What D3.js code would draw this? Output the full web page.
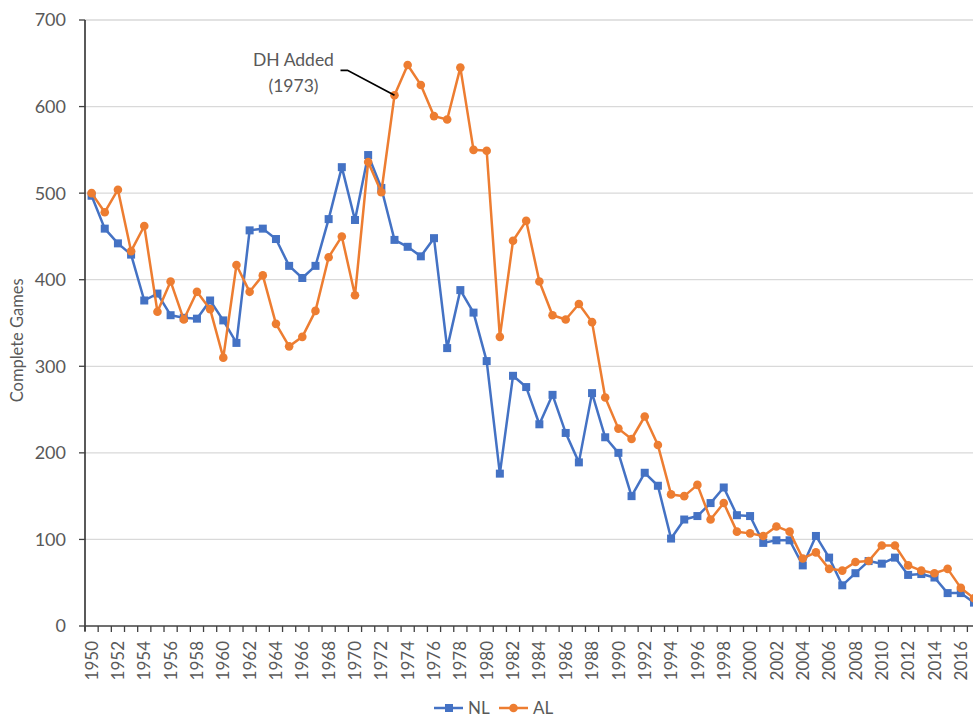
<!DOCTYPE html>
<html>
<head>
<meta charset="utf-8">
<script src="https://cdn.jsdelivr.net/npm/d3@7"></script>
<style>
  body { margin: 0; background: #fff; }
  text { font-family: Lato, "Open Sans", sans-serif; fill: #595959; }
</style>
</head>
<body>
<script>
// seasons 1950..2017
var years = d3.range(1950, 2018);

var nlGames = [497, 459, 442, 429, 376, 384, 359, 356, 355, 376,
  353, 327, 457, 459, 447, 416, 402, 416, 470, 530,
  469, 544, 506, 446, 438, 427, 448, 321, 388, 362,
  306, 176, 289, 276, 233, 267, 223, 189, 269, 218,
  200, 150, 177, 162, 101, 123, 127, 142, 160, 128,
  127, 96, 99, 99, 70, 104, 79, 47, 61, 75,
  72, 79, 59, 60, 56, 38, 38, 27];

var alGames = [500, 478, 504, 433, 462, 363, 398, 354, 386, 366,
  310, 417, 386, 405, 349, 323, 334, 364, 426, 450,
  382, 536, 501, 613, 648, 625, 589, 585, 645, 550,
  549, 334, 445, 468, 398, 359, 354, 372, 351, 264,
  228, 216, 242, 209, 152, 150, 163, 123, 142, 109,
  107, 104, 115, 109, 78, 85, 66, 64, 74, 75,
  93, 93, 70, 64, 61, 66, 44, 32];

var yTicks = [0, 100, 200, 300, 400, 500, 600, 700];
var seriesNames = ["NL", "AL"];
var seriesColors = ["#4472C4", "#ED7D31"];

var w = 973, h = 717;
var plotLeft = 85, plotTop = 20, plotBottom = 626;

var svg = d3.select("body").append("svg").attr("width", w).attr("height", h);

var x = d3.scaleBand()
  .domain(years)
  .range([plotLeft, plotLeft + years.length * 13.17])
  .paddingInner(0)
  .paddingOuter(0);

var y = d3.scaleLinear().domain([0, 700]).range([plotBottom, plotTop]);

function cx(d) {
  return x(d) + x.bandwidth() / 2;
}

// gridlines
svg.selectAll("line.grid")
  .data(yTicks.slice(1))
  .enter()
  .append("line")
  .attr("class", "grid")
  .attr("x1", plotLeft)
  .attr("x2", w)
  .attr("y1", function (d) { return y(d); })
  .attr("y2", function (d) { return y(d); })
  .attr("stroke", "#d9d9d9")
  .attr("stroke-width", 1.3);

// y axis
svg.append("line")
  .attr("x1", plotLeft).attr("x2", plotLeft)
  .attr("y1", y(700)).attr("y2", plotBottom + 5)
  .attr("stroke", "#000").attr("stroke-width", 1.3);

svg.selectAll("line.ytick")
  .data(yTicks)
  .enter()
  .append("line")
  .attr("class", "ytick")
  .attr("x1", plotLeft - 6)
  .attr("x2", plotLeft)
  .attr("y1", function (d) { return y(d); })
  .attr("y2", function (d) { return y(d); })
  .attr("stroke", "#404040")
  .attr("stroke-width", 1.3);

svg.selectAll("text.ylab")
  .data(yTicks)
  .enter()
  .append("text")
  .attr("class", "ylab")
  .attr("x", 66)
  .attr("y", function (d) { return y(d); })
  .attr("dy", "0.36em")
  .attr("text-anchor", "end")
  .style("font-size", "18px")
  .text(function (d) { return d; });

svg.append("text")
  .attr("transform", "translate(23," + y(330) + ") rotate(-90)")
  .attr("text-anchor", "middle")
  .style("font-size", "16.5px")
  .text("Complete Games");

// x axis
svg.append("line")
  .attr("x1", plotLeft).attr("x2", w)
  .attr("y1", plotBottom).attr("y2", plotBottom)
  .attr("stroke", "#404040").attr("stroke-width", 1.3);

svg.selectAll("line.xtick")
  .data(years)
  .enter()
  .append("line")
  .attr("class", "xtick")
  .attr("x1", function (d) { return x(d); })
  .attr("x2", function (d) { return x(d); })
  .attr("y1", plotBottom)
  .attr("y2", plotBottom + 6)
  .attr("stroke", "#404040")
  .attr("stroke-width", 1.3);

svg.selectAll("text.xlab")
  .data(years.filter(function (d) { return d % 2 === 0; }))
  .enter()
  .append("text")
  .attr("class", "xlab")
  .attr("transform", function (d) {
    return "translate(" + cx(d) + "," + (plotBottom + 15) + ") rotate(-90)";
  })
  .attr("dy", "0.36em")
  .attr("text-anchor", "end")
  .style("font-size", "17px")
  .text(function (d) { return d; });

// lines + markers
var line = d3.line()
  .x(function (d) { return cx(d.year); })
  .y(function (d) { return y(d.value); });

function toPoints(values) {
  return years.map(function (yr, i) { return { year: yr, value: values[i] }; });
}

var nlPts = toPoints(nlGames);
var alPts = toPoints(alGames);

svg.append("path")
  .datum(nlPts)
  .attr("d", line)
  .attr("fill", "none")
  .attr("stroke", seriesColors[0])
  .attr("stroke-width", 2.5)
  .attr("stroke-linejoin", "round");

svg.selectAll("rect.nl")
  .data(nlPts)
  .enter()
  .append("rect")
  .attr("class", "nl")
  .attr("x", function (d) { return cx(d.year) - 4; })
  .attr("y", function (d) { return y(d.value) - 4; })
  .attr("width", 8)
  .attr("height", 8)
  .attr("fill", seriesColors[0]);

svg.append("path")
  .datum(alPts)
  .attr("d", line)
  .attr("fill", "none")
  .attr("stroke", seriesColors[1])
  .attr("stroke-width", 2.5)
  .attr("stroke-linejoin", "round");

svg.selectAll("circle.al")
  .data(alPts)
  .enter()
  .append("circle")
  .attr("class", "al")
  .attr("cx", function (d) { return cx(d.year); })
  .attr("cy", function (d) { return y(d.value); })
  .attr("r", 4.3)
  .attr("fill", seriesColors[1]);

// DH annotation
var dhX = cx(1973), dhY = y(alGames[1973 - 1950]);
svg.append("polyline")
  .attr("points", [
    [dhX - 54, dhY - 25],
    [dhX - 47, dhY - 25],
    [dhX, dhY]
  ].join(" "))
  .attr("fill", "none")
  .attr("stroke", "#000")
  .attr("stroke-width", 1.8);

svg.append("text")
  .attr("x", dhX - 101)
  .attr("y", dhY - 29)
  .attr("text-anchor", "middle")
  .style("font-size", "17.5px")
  .text("DH Added");

svg.append("text")
  .attr("x", dhX - 101)
  .attr("y", dhY - 3)
  .attr("text-anchor", "middle")
  .style("font-size", "17.5px")
  .text("(1973)");

// legend
var legend = svg.selectAll("g.legend")
  .data(seriesNames)
  .enter()
  .append("g")
  .attr("class", "legend")
  .attr("transform", function (d, i) {
    return "translate(" + (434 + i * 65) + ",708)";
  });

legend.append("line")
  .attr("x1", 0).attr("x2", 29)
  .attr("stroke", function (d, i) { return seriesColors[i]; })
  .attr("stroke-width", 2.5);

legend.filter(function (d, i) { return i === 0; })
  .append("rect")
  .attr("x", 11).attr("y", -4)
  .attr("width", 8).attr("height", 8)
  .attr("fill", seriesColors[0]);

legend.filter(function (d, i) { return i === 1; })
  .append("circle")
  .attr("cx", 14.5).attr("r", 4.3)
  .attr("fill", seriesColors[1]);

legend.append("text")
  .attr("x", 34)
  .attr("dy", "0.36em")
  .style("font-size", "17px")
  .text(function (d) { return d; });
</script>
</body>
</html>
